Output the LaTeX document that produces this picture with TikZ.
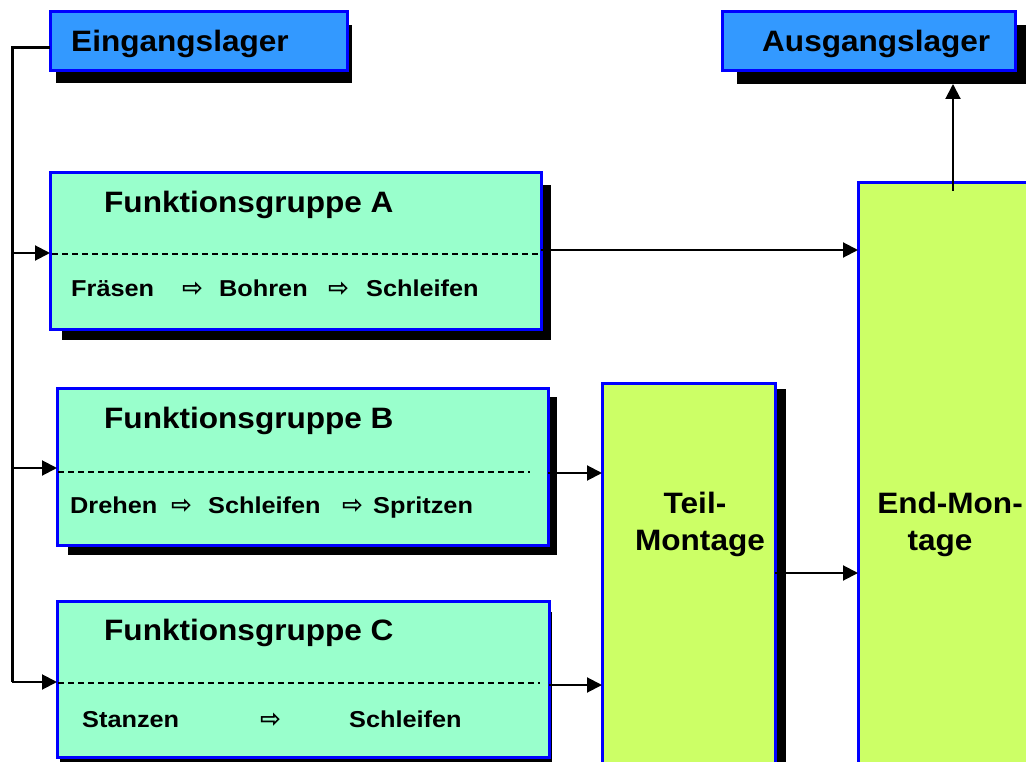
\documentclass[tikz,border=0pt]{standalone}
\usepackage{fontspec}
\setmainfont{Liberation Sans}
\newfontfamily\titlefont[FakeStretch=1.07]{Liberation Sans}
\newfontfamily\subfont[FakeStretch=1.1]{Liberation Sans}
\newfontfamily\arrowfont{DejaVu Sans}
\usetikzlibrary{arrows.meta}
\definecolor{boxblue}{HTML}{3399FF}
\definecolor{boxborder}{HTML}{0000FF}
\definecolor{boxgreen}{HTML}{99FFCC}
\definecolor{boxlime}{HTML}{CCFF66}
\newcommand\flowarrow{\raisebox{0pt}{\arrowfont\bfseries\fontsize{25}{26}\selectfont ⇨}}
\tikzset{
  box/.style={draw=boxborder, line width=3pt, inner sep=0pt, outer sep=0pt, anchor=north west},
  shadowbox/.style={fill=black, inner sep=0pt, outer sep=0pt, anchor=north west},
  ttl/.style={font=\titlefont\bfseries\fontsize{29.5}{34}\selectfont, inner sep=0pt, anchor=base west},
  ttlc/.style={font=\titlefont\bfseries\fontsize{29.5}{34}\selectfont, inner sep=0pt, anchor=base},
  sub/.style={font=\subfont\bfseries\fontsize{23}{26}\selectfont, inner sep=0pt, anchor=base west},
  arr/.style={line width=2pt, -{Triangle[length=15pt,width=15pt]}},
  dashline/.style={line width=1.5pt, dash pattern=on 6pt off 4pt},
  trunk/.style={line width=3pt}
}
\begin{document}
\begin{tikzpicture}[x=1pt,y=-1pt]
\useasboundingbox (0,0) rectangle (1026,762);
\clip (0,0) rectangle (1026,762);
\fill[white] (0,0) rectangle (1026,762);
% shadows
\node[shadowbox, minimum width=296pt, minimum height=58pt] (einS) at (56,25) {};
\node[shadowbox, minimum width=300pt, minimum height=59pt] (ausS) at (737,25) {};
\node[shadowbox, minimum width=489pt, minimum height=155pt] (AS) at (62,185) {};
\node[shadowbox, minimum width=489pt, minimum height=158pt] (BS) at (68,397) {};
\node[shadowbox, minimum width=492pt, minimum height=158pt] (CS) at (60,612) {};
\node[shadowbox, minimum width=173pt, minimum height=390pt] (TS) at (613,389) {};
% boxes
\node[box, fill=boxblue, minimum width=297pt, minimum height=59pt] (ein) at (50,12) {};
\node[box, fill=boxblue, minimum width=293pt, minimum height=59pt] (aus) at (722,12) {};
\node[box, fill=boxgreen, minimum width=491pt, minimum height=156pt] (A) at (50,173) {};
\node[box, fill=boxgreen, minimum width=491pt, minimum height=157pt] (B) at (57,388) {};
\node[box, fill=boxgreen, minimum width=492pt, minimum height=156pt] (C) at (57,601) {};
\node[box, fill=boxlime, minimum width=173pt, minimum height=400pt] (Teil) at (602,383) {};
\node[box, fill=boxlime, minimum width=190pt, minimum height=600pt] (End) at (858,183) {};
% dashed separators
\draw[dashline] ([xshift=2pt,yshift=-81pt]A.north west) -- ([xshift=-2pt,yshift=-81pt]A.north east);
\draw[dashline] ([xshift=1pt,yshift=-84pt]B.north west) -- ([xshift=-18pt,yshift=-84pt]B.north east);
\draw[dashline] ([xshift=1pt,yshift=-82pt]C.north west) -- ([xshift=-9pt,yshift=-82pt]C.north east);
% texts
\node[ttl] (einT) at (71,52) {Eingangslager};
\node[ttl] (ausT) at (762,52) {Ausgangslager};
\node[ttl] (AT) at (104,213) {Funktionsgruppe A};
\node[ttl] (BT) at (104,428) {Funktionsgruppe B};
\node[ttl] (CT) at (104,640) {Funktionsgruppe C};
\node[sub] (Asub) at (71,297) {\makebox[111pt][l]{Fräsen}\makebox[37pt][l]{\flowarrow}\makebox[109pt][l]{Bohren}\makebox[38pt][l]{\flowarrow}Schleifen};
\node[sub] (Bsub) at (70,513) {\makebox[101pt][l]{Drehen}\makebox[37pt][l]{\flowarrow}\makebox[134pt][l]{Schleifen}\makebox[31pt][l]{\flowarrow}Spritzen};
\node[sub] (Csub) at (82,727) {\makebox[178pt][l]{Stanzen}\makebox[89pt][l]{\flowarrow}Schleifen};
\node[ttlc] (T1) at (695,513) {Teil-};
\node[ttlc] (T2) at (700,550) {Montage};
\node[ttlc] (E1) at (950,513) {End-Mon-};
\node[ttlc] (E2) at (940,550) {tage};
% connectors left
\coordinate (j0) at (12,48);
\coordinate (jA) at (12,253);
\coordinate (jB) at (12,468);
\coordinate (jC) at (12,682);
\draw[trunk] (j0 -| ein.west) -- (j0) -- (jC);
\draw[arr] (jA) -- (jA -| A.west);
\draw[arr] (jB) -- (jB -| B.west);
\draw[arr] (jC) -- (jC -| C.west);
% connectors right
\coordinate (yA) at (0,250);
\coordinate (yB) at (0,473);
\coordinate (yC) at (0,685);
\coordinate (yT) at (0,573);
\draw[arr] (A.east |- yA) -- (End.west |- yA);
\draw[arr] (B.east |- yB) -- (Teil.west |- yB);
\draw[arr] (C.east |- yC) -- (Teil.west |- yC);
\draw[arr] (Teil.east |- yT) -- (End.west |- yT);
\coordinate (xU) at (953,191);
\draw[arr] (xU) -- (xU |- ausS.south);
\end{tikzpicture}
\end{document}
